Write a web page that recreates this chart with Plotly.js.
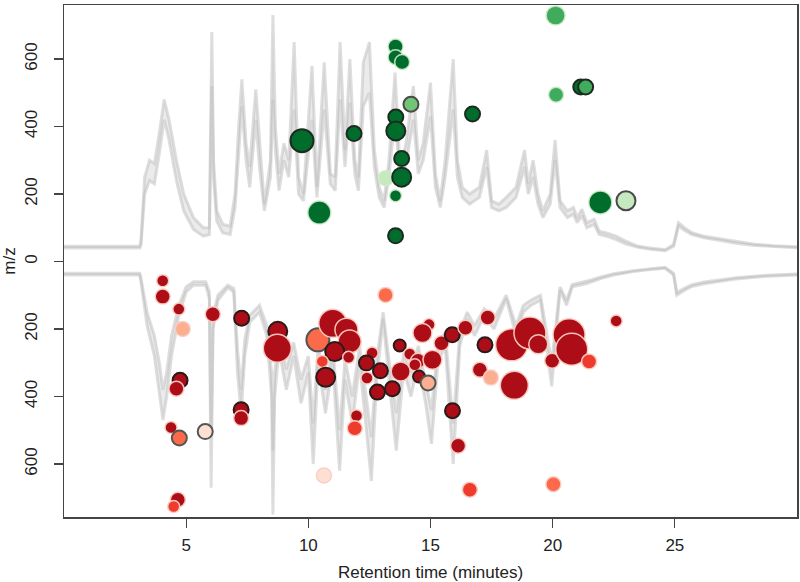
<!DOCTYPE html>
<html>
<head>
<meta charset="utf-8">
<script src="https://cdn.plot.ly/plotly-3.0.1.min.js"></script>
<style>html,body{margin:0;padding:0;background:#fff;}#chart{width:800px;height:582px;}</style>
</head>
<body>
<div id="chart"></div>
<script>
// ---- Total ion chromatograms (upper: positive mirror, lower: negative mirror) ----
var ticUpTime = [0,3.1,3.15,3.3,3.5,3.7,3.9,4.1,4.3,4.6,4.9,5.3,5.7,5.95,6.05,6.12,6.25,6.5,6.8,7.0,7.15,7.28,7.45,7.6,7.85,8.0,8.2,8.45,8.55,8.65,8.8,9.0,9.2,9.42,9.6,9.8,10.15,10.35,10.65,10.9,11.1,11.3,11.5,11.7,11.9,12.05,12.25,12.5,12.7,12.9,13.1,13.3,13.55,13.75,14.0,14.3,14.5,14.7,15.0,15.2,15.4,15.6,15.93,16.1,16.3,16.6,17.0,17.3,17.5,17.8,18.1,18.5,18.85,19.0,19.2,19.4,19.6,19.9,20.1,20.3,20.6,20.85,21.0,21.2,21.4,21.7,21.9,22.2,22.6,23.0,23.5,24.0,24.6,24.95,25.15,25.4,25.7,26.2,26.8,27.5,28.2,29.0,30];
var ticUpA = [45,45,60,250,300,290,380,480,420,300,200,130,100,100,680,300,150,110,105,200,400,540,350,280,510,350,170,300,730,400,260,350,300,650,250,200,580,220,590,260,250,650,330,600,300,250,590,650,330,220,180,300,560,280,350,520,300,350,530,260,180,300,600,300,220,200,220,330,180,170,190,220,330,230,300,200,150,200,360,180,150,160,130,155,115,125,90,85,75,60,45,40,35,50,115,100,85,75,68,58,52,47,44];
var ticUpB = [40,40,50,200,240,230,320,420,360,240,150,95,75,80,520,250,120,85,80,160,320,460,300,220,420,280,150,250,480,330,210,300,250,450,200,180,420,190,450,230,210,480,280,470,260,210,460,500,280,190,160,250,430,240,290,420,260,300,430,220,160,250,450,250,190,170,190,280,160,150,160,190,280,200,250,170,130,170,300,160,130,140,115,135,100,110,80,75,65,52,42,36,32,45,105,92,80,70,63,54,48,44,41];

var ticDnTime = [0,3.1,3.15,3.4,3.7,3.9,4.05,4.2,4.4,4.7,5.0,5.3,5.8,5.95,6.02,6.1,6.3,6.7,6.95,7.1,7.25,7.4,7.6,8.0,8.3,8.5,8.55,8.62,8.8,9.1,9.4,9.7,10.0,10.2,10.4,10.7,11.0,11.28,11.5,11.8,12.1,12.35,12.58,12.8,13.06,13.3,13.6,13.9,14.2,14.5,14.8,15.04,15.3,15.6,15.93,16.2,16.5,16.8,17.2,17.6,18.1,18.5,18.8,19.1,19.5,19.96,20.3,20.57,20.8,21.4,22.0,22.5,23.3,24.0,24.6,24.95,25.08,25.4,25.7,26.2,26.8,27.5,28.5,30];
var ticDnA = [-40,-40,-60,-190,-280,-380,-470,-400,-280,-160,-90,-70,-70,-110,-670,-200,-115,-78,-90,-330,-450,-280,-180,-150,-220,-400,-750,-400,-260,-380,-280,-420,-330,-600,-300,-450,-300,-620,-350,-480,-300,-480,-650,-350,-170,-350,-560,-320,-400,-300,-420,-540,-300,-250,-600,-250,-170,-220,-160,-200,-110,-220,-150,-130,-115,-370,-85,-130,-75,-65,-50,-40,-30,-24,-20,-40,-100,-85,-74,-66,-59,-52,-45,-40];
var ticDnB = [-35,-35,-50,-150,-220,-300,-380,-330,-220,-130,-75,-60,-60,-90,-520,-160,-100,-70,-80,-260,-380,-230,-160,-130,-190,-330,-560,-330,-220,-320,-240,-350,-280,-480,-250,-380,-250,-500,-290,-400,-250,-400,-520,-290,-150,-290,-450,-270,-330,-250,-350,-440,-250,-210,-480,-210,-150,-190,-140,-170,-100,-190,-130,-115,-100,-300,-75,-115,-68,-58,-45,-36,-27,-21,-17,-35,-92,-79,-69,-61,-55,-48,-42,-37];

// ---- Features up in the positive mode (green) ----
var greenRT    = [20.12,20.14,21.15,21.35,14.2,16.72,21.95,23.0,13.57,13.57,13.84,13.58,13.58,11.87,9.74,13.82,13.17,13.82,13.57,10.45,13.57];
var greenMZ    = [729,494,517,517,466,437,175,180,637,605,591,428,387,379,358,305,247,250,195,145,76];
var greenLevel = [3,2,2,2,2,2,4,3,2,2,2,2,3,2,4,2,2,3,1,4,2];
var greenShade = [1,1,0,1,2,0,0,3,0,0,0,0,0,0,0,0,3,0,0,0,0];
var greenSig   = [0,0,1,1,1,1,0,1,0,0,0,1,1,1,1,1,0,1,0,0,1];

// ---- Features in the negative mode (red) ----
var redRT    = [4.04,4.04,4.70,4.86,6.09,7.27,8.75,8.73,4.75,4.60,4.38,4.72,5.78,7.25,7.25,4.66,4.49,13.16,10.39,11.0,11.56,11.69,11.08,11.65,10.57,10.71,12.61,12.38,12.95,12.40,12.83,13.44,13.74,14.94,14.67,14.15,14.49,15.08,13.78,14.36,14.53,14.90,15.45,15.89,16.43,11.97,11.9,15.9,16.13,16.61,10.64,17.34,17.23,17.02,17.47,18.32,19.07,19.41,18.43,19.98,20.67,20.78,21.49,22.6,20.03];
var redMZ    = [-57,-104,-141,-200,-156,-168,-207,-257,-352,-377,-492,-523,-504,-439,-464,-706,-726,-99,-232,-183,-202,-237,-267,-284,-296,-343,-271,-301,-324,-345,-387,-377,-249,-187,-212,-274,-294,-291,-326,-306,-341,-360,-242,-217,-196,-457,-494,-442,-546,-676,-634,-166,-247,-321,-344,-247,-212,-245,-367,-294,-217,-260,-296,-176,-660];
var redLevel = [1,2,1,2,2,2,3,5,2,2,1,2,2,2,2,2,1,2,4,5,4,4,3,1,1,3,1,2,2,1,2,2,1,1,3,1,2,3,3,1,1,2,2,2,2,1,2,2,2,2,2,2,2,2,2,6,6,3,5,2,6,6,2,1,2];
var redShade = [0,0,0,3,0,0,0,0,0,0,0,2,4,0,0,0,1,2,2,0,0,0,0,0,1,0,0,0,0,0,0,0,0,0,0,0,0,0,0,0,0,3,0,0,0,0,1,0,0,1,4,0,0,0,3,0,0,0,0,0,0,0,1,0,2];
var redSig   = [0,0,0,0,0,1,1,0,1,0,0,1,1,1,0,0,0,0,1,0,0,0,1,0,0,1,0,1,1,0,1,1,1,0,0,0,0,0,0,0,1,1,0,1,0,0,0,1,0,0,0,0,1,0,0,0,0,0,0,0,0,0,0,0,0];

// ---- Axis ticks ----
var xTicks = [5,10,15,20,25];
var yTicks = [-600,-400,-200,0,200,400,600];
var yTickText = ['600','400','200','0','200','400','600'];

// ---- styling maps ----
var sizePx = {1:12,2:15,3:19,4:23,5:28,6:32};
var greenPalette = ['#006d2c','#41ab5d','#74c476','#c7e9c0'];
var redPalette = ['#ad0d16','#ef3b2c','#fb6a4a','#fcae91','#fee0d2'];

function ticTrace(x, y, fill) {
  var t = {x: x, y: y, type: 'scatter', mode: 'lines', hoverinfo: 'skip',
    line: {color: 'rgba(190,190,190,0.5)', width: 3, shape: 'linear'}, showlegend: false};
  if (fill) { t.fill = 'tonexty'; t.fillcolor = 'rgba(210,210,210,0.45)'; }
  return t;
}

var greenTrace = {
  x: greenRT, y: greenMZ, type: 'scatter', mode: 'markers', showlegend: false,
  marker: {
    size: greenLevel.map(function(l){return sizePx[l];}),
    color: greenShade.map(function(s){return greenPalette[s];}),
    opacity: 1,
    line: {
      color: greenSig.map(function(s, i){return s ? (greenShade[i] >= 2 ? '#4a4a4a' : '#1c2b1f') : 'rgba(205,235,200,0.9)';}),
      width: greenSig.map(function(s){return s ? 2 : 1.5;})
    }
  }
};
var redTrace = {
  x: redRT, y: redMZ, type: 'scatter', mode: 'markers', showlegend: false,
  marker: {
    size: redLevel.map(function(l){return sizePx[l];}),
    color: redShade.map(function(s){return redPalette[s];}),
    opacity: 1,
    line: {
      color: redSig.map(function(s, i){return s ? (redShade[i] >= 2 ? '#555' : '#2a1a1a') : 'rgba(250,205,195,0.95)';}),
      width: redSig.map(function(s){return s ? 2 : 1.5;})
    }
  }
};

var data = [
  ticTrace(ticUpTime, ticUpA, false), ticTrace(ticUpTime, ticUpB, true),
  ticTrace(ticDnTime, ticDnA, false), ticTrace(ticDnTime, ticDnB, true),
  greenTrace, redTrace
];

var font = {family: '"Liberation Sans", Arial, Helvetica, sans-serif', size: 17, color: '#222'};
var layout = {
  width: 800, height: 582,
  margin: {l: 64, r: 3, t: 5, b: 65},
  paper_bgcolor: '#fff', plot_bgcolor: '#fff',
  font: font, showlegend: false,
  xaxis: {
    range: [0, 30], tickvals: xTicks, ticks: 'outside', ticklen: 9, tickwidth: 1.3, tickcolor: '#444',
    showline: true, mirror: true, linecolor: '#444', linewidth: 1.5,
    showgrid: false, zeroline: false, tickfont: font, ticklabelstandoff: 3,
    title: {text: 'Retention time (minutes)', font: font, standoff: 12}
  },
  yaxis: {
    range: [-757, 760], tickvals: yTicks, ticktext: yTickText, tickangle: -90,
    ticks: 'outside', ticklen: 9, tickwidth: 1.3, tickcolor: '#444',
    showline: true, mirror: true, linecolor: '#444', linewidth: 1.5,
    showgrid: false, zeroline: false, tickfont: font, ticklabelstandoff: 10,
    title: {text: 'm/z', font: font, standoff: 4}
  }
};

Plotly.newPlot('chart', data, layout, {staticPlot: true, displayModeBar: false});
</script>
</body>
</html>
